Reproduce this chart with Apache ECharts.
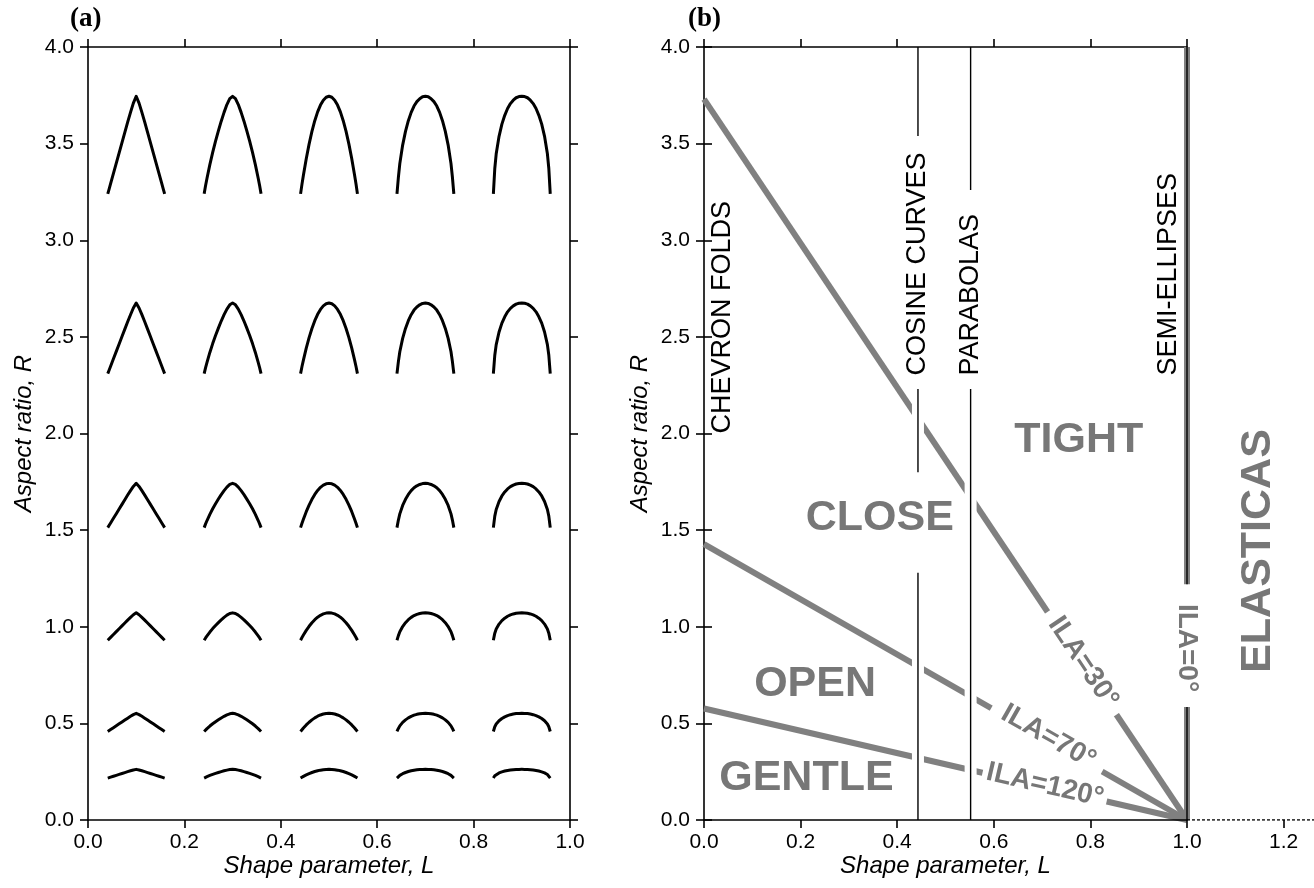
<!DOCTYPE html>
<html><head><meta charset="utf-8">
<script src="https://cdn.jsdelivr.net/npm/echarts@6/dist/echarts.min.js"></script>
<style>html,body{margin:0;padding:0;background:#fff}#c{width:1314px;height:888px}</style>
</head><body><div id="c"></div>
<script>
// ---------------- Panel (a): fold profiles ----------------
const foldCentres = [0.1, 0.3, 0.5, 0.7, 0.9];          // L of each column
const foldHalfWidth = 0.059;                              // half wavelength (in L units)
const rowPeaks = [3.745, 2.675, 1.742, 1.072, 0.552, 0.262];
const rowBases = [3.24, 2.31, 1.513, 0.93, 0.458, 0.217];
// normalised half-profile: distance from hinge (u) and height fraction (v)
const profileU   = [0, 0.1, 0.2, 0.3, 0.4, 0.5, 0.6, 0.7, 0.8, 0.9, 0.95, 1];
const profileL01 = [1, 0.93, 0.835, 0.735, 0.63, 0.525, 0.42, 0.315, 0.21, 0.105, 0.052, 0];
const profileL03 = [1, 0.975, 0.915, 0.835, 0.745, 0.645, 0.54, 0.425, 0.30, 0.16, 0.085, 0];
const profileL05 = [1, 0.99, 0.96, 0.91, 0.84, 0.75, 0.64, 0.51, 0.36, 0.19, 0.10, 0];
const profileL07 = [1, 0.995, 0.975, 0.945, 0.90, 0.835, 0.75, 0.64, 0.50, 0.31, 0.17, 0];
const profileL09 = [1, 0.997, 0.985, 0.96, 0.925, 0.875, 0.805, 0.715, 0.59, 0.41, 0.26, 0];
const profiles = [profileL01, profileL03, profileL05, profileL07, profileL09];

// ---------------- Panel (b) ----------------
const ila30  = [[0, 3.73], [1, 0]];
const ila70  = [[0, 1.428], [1, 0]];
const ila120 = [[0, 0.577], [1, 0]];
const cosineSegments   = [[[0.443, 4], [0.443, 3.54]], [[0.443, 2.23], [0.443, 1.80]], [[0.443, 1.28], [0.443, 0]]];
const parabolaSegments = [[[0.552, 4], [0.552, 3.26]], [[0.552, 2.23], [0.552, 0]]];
const ellipseSegments  = [[[1, 4], [1, 1.22]], [[1, 0.60], [1, 0]]];
const casingSegments   = [cosineSegments[1], cosineSegments[2], parabolaSegments[1]];
const extensionLine    = [[1, 0], [1.263, 0]];
const extraTick = [1.2];

const shapeLabels = [
  {text: 'CHEVRON FOLDS', at: [0.039, 2.0]},
  {text: 'COSINE CURVES', at: [0.443, 2.30]},
  {text: 'PARABOLAS',     at: [0.552, 2.30]},
  {text: 'SEMI-ELLIPSES', at: [0.962, 2.30]}
];
const classLabels = [
  {text: 'TIGHT',  at: [0.776, 1.966]},
  {text: 'CLOSE',  at: [0.364, 1.563]},
  {text: 'OPEN',   at: [0.230, 0.704]},
  {text: 'GENTLE', at: [0.212, 0.217]}
];
const ilaLabels = [
  {text: 'ILA=30°',  at: [0.785, 0.815], rot: -56.2, pad: [1, 10]},
  {text: 'ILA=70°',  at: [0.713, 0.43],  rot: -29.7, pad: [1, 12]},
  {text: 'ILA=120°', at: [0.706, 0.18],  rot: -13.0, pad: [1, 4]},
  {text: 'ILA=0°',   at: [1.0, 0.89],    rot: -90,   pad: [1, 15]}
];
const outerLabel = {text: 'ELASTICAS', at: [1.147, 1.392]};

// ---------------- build ----------------
const GRAY = '#808080';
const TGRAY = '#777777';
const FONT = '"Liberation Sans", Arial, sans-serif';
const axisLineStyle = {color: '#000', width: 1.6};
const tickCfg = {show: true, inside: false, length: 8, lineStyle: {color: '#000', width: 1.6}};
const labelCfg = {fontSize: 21, color: '#000', fontFamily: FONT, formatter: v => Number(v).toFixed(1)};
const nameStyle = {fontSize: 24, fontStyle: 'italic', color: '#000', fontFamily: FONT};

function xAx(grid, pos, opts) {
  return Object.assign({
    type: 'value', gridIndex: grid, position: pos, min: 0, max: 1, interval: 0.2,
    axisLine: {show: true, onZero: false, lineStyle: axisLineStyle},
    axisTick: tickCfg, splitLine: {show: false},
    axisLabel: pos === 'bottom' ? Object.assign({margin: 12}, labelCfg) : {show: false}
  }, opts || {});
}
function yAx(grid, pos, opts) {
  return Object.assign({
    type: 'value', gridIndex: grid, position: pos, min: 0, max: 4, interval: 0.5,
    axisLine: {show: true, onZero: false, lineStyle: axisLineStyle},
    axisTick: tickCfg, splitLine: {show: false},
    axisLabel: pos === 'left' ? Object.assign({margin: 14}, labelCfg) : {show: false}
  }, opts || {});
}

const series = [];
// folds
rowPeaks.forEach((peak, i) => {
  const base = rowBases[i];
  foldCentres.forEach((c, j) => {
    const prof = profiles[j];
    const pts = [];
    for (let k = profileU.length - 1; k >= 0; k--) pts.push([c - profileU[k] * foldHalfWidth, base + prof[k] * (peak - base)]);
    for (let k = 1; k < profileU.length; k++) pts.push([c + profileU[k] * foldHalfWidth, base + prof[k] * (peak - base)]);
    series.push({type: 'line', xAxisIndex: 0, yAxisIndex: 0, data: pts, showSymbol: false, silent: true,
      lineStyle: {color: '#000', width: 3, join: 'round'}, z: 3});
  });
});
// ILA lines
[ila30, ila70, ila120].forEach(d => series.push({type: 'line', xAxisIndex: 2, yAxisIndex: 2, data: d,
  showSymbol: false, silent: true, lineStyle: {color: GRAY, width: 6, cap: 'butt'}, z: 2}));
ellipseSegments.forEach(d => series.push({type: 'line', xAxisIndex: 2, yAxisIndex: 2, data: d,
  showSymbol: false, silent: true, lineStyle: {color: GRAY, width: 6}, z: 2}));
casingSegments.forEach(d => series.push({type: 'line', xAxisIndex: 2, yAxisIndex: 2, data: d,
  showSymbol: false, silent: true, lineStyle: {color: '#fff', width: 12}, z: 3}));
[...cosineSegments, ...parabolaSegments, ...ellipseSegments].forEach(d => series.push({type: 'line',
  xAxisIndex: 2, yAxisIndex: 2, data: d, showSymbol: false, silent: true,
  lineStyle: {color: '#000', width: 1.4}, z: 4}));
// dotted extension of the L axis
series.push({type: 'line', xAxisIndex: 4, yAxisIndex: 4, data: extensionLine, showSymbol: false, silent: true,
  lineStyle: {color: '#000', width: 1.6, type: [3, 2]}, z: 4});

// labels
const labItems = [];
shapeLabels.forEach(l => labItems.push({value: l.at, label: {show: true, formatter: l.text, position: 'inside',
  rotate: 90, align: 'left', verticalAlign: 'middle', fontSize: 27, color: '#000', fontFamily: FONT, opacity: 1}}));
classLabels.forEach(l => labItems.push({value: l.at, label: {show: true, formatter: l.text, position: 'inside',
  align: 'center', verticalAlign: 'middle', fontSize: 43, fontWeight: 'bold', color: TGRAY, fontFamily: FONT, opacity: 1}}));
ilaLabels.forEach(l => labItems.push({value: l.at, label: {show: true, formatter: l.text, position: 'inside',
  rotate: l.rot, align: 'center', verticalAlign: 'middle', fontSize: 28, fontWeight: 'bold', color: TGRAY,
  fontFamily: FONT, backgroundColor: '#fff', padding: l.pad, opacity: 1}}));
series.push({type: 'scatter', xAxisIndex: 2, yAxisIndex: 2, data: labItems, symbolSize: 0, silent: true, z: 8,
  itemStyle: {opacity: 1}});
series.push({type: 'scatter', xAxisIndex: 4, yAxisIndex: 4, symbolSize: 0, silent: true, z: 8, itemStyle: {opacity: 1},
  data: [{value: outerLabel.at, label: {show: true, formatter: outerLabel.text, position: 'inside', rotate: 90,
    align: 'center', verticalAlign: 'middle', fontSize: 43, fontWeight: 'bold', color: TGRAY, fontFamily: FONT, opacity: 1}}]});

const titleStyle = {fontFamily: '"Liberation Serif", "Times New Roman", serif', fontWeight: 'bold', fontSize: 27, color: '#000'};
const option = {
  animation: false,
  backgroundColor: '#fff',
  textStyle: {fontFamily: FONT},
  title: [
    {text: '(a)', left: 70, top: 6, padding: 0, textStyle: titleStyle},
    {text: '(b)', left: 688, top: 6, padding: 0, textStyle: titleStyle}
  ],
  grid: [
    {left: 88, right: 744, top: 47, bottom: 68, containLabel: false, outerBoundsMode: 'none'},
    {left: 704, right: 127, top: 47, bottom: 68, containLabel: false, outerBoundsMode: 'none'},
    {left: 704, right: 0, top: 47, bottom: 68, containLabel: false, outerBoundsMode: 'none'}
  ],
  xAxis: [
    xAx(0, 'bottom', {name: 'Shape parameter, L', nameLocation: 'middle', nameGap: 34, nameTextStyle: nameStyle, nameMoveOverlap: false}),
    xAx(0, 'top'),
    xAx(1, 'bottom', {z: 6, name: 'Shape parameter, L', nameLocation: 'middle', nameGap: 34, nameTextStyle: nameStyle, nameMoveOverlap: false}),
    xAx(1, 'top'),
    xAx(2, 'bottom', {max: 1.263, axisLine: {show: false},
      axisTick: Object.assign({}, tickCfg, {customValues: extraTick}),
      axisLabel: Object.assign({margin: 12}, labelCfg, {customValues: extraTick,
        formatter: v => Math.abs(v - 1.2) < 1e-6 ? '1.2' : ''})})
  ],
  yAxis: [
    yAx(0, 'left', {name: 'Aspect ratio, R', nameLocation: 'middle', nameGap: 52, nameTextStyle: nameStyle, nameMoveOverlap: false}),
    yAx(0, 'right'),
    yAx(1, 'left', {name: 'Aspect ratio, R', nameLocation: 'middle', nameGap: 52, nameTextStyle: nameStyle, nameMoveOverlap: false}),
    yAx(1, 'right', {axisLine: {show: false}}),
    yAx(2, 'left', {show: false})
  ],
  series: series
};
const chart = echarts.init(document.getElementById('c'), null, {renderer: 'canvas'});
chart.setOption(option);
</script></body></html>
